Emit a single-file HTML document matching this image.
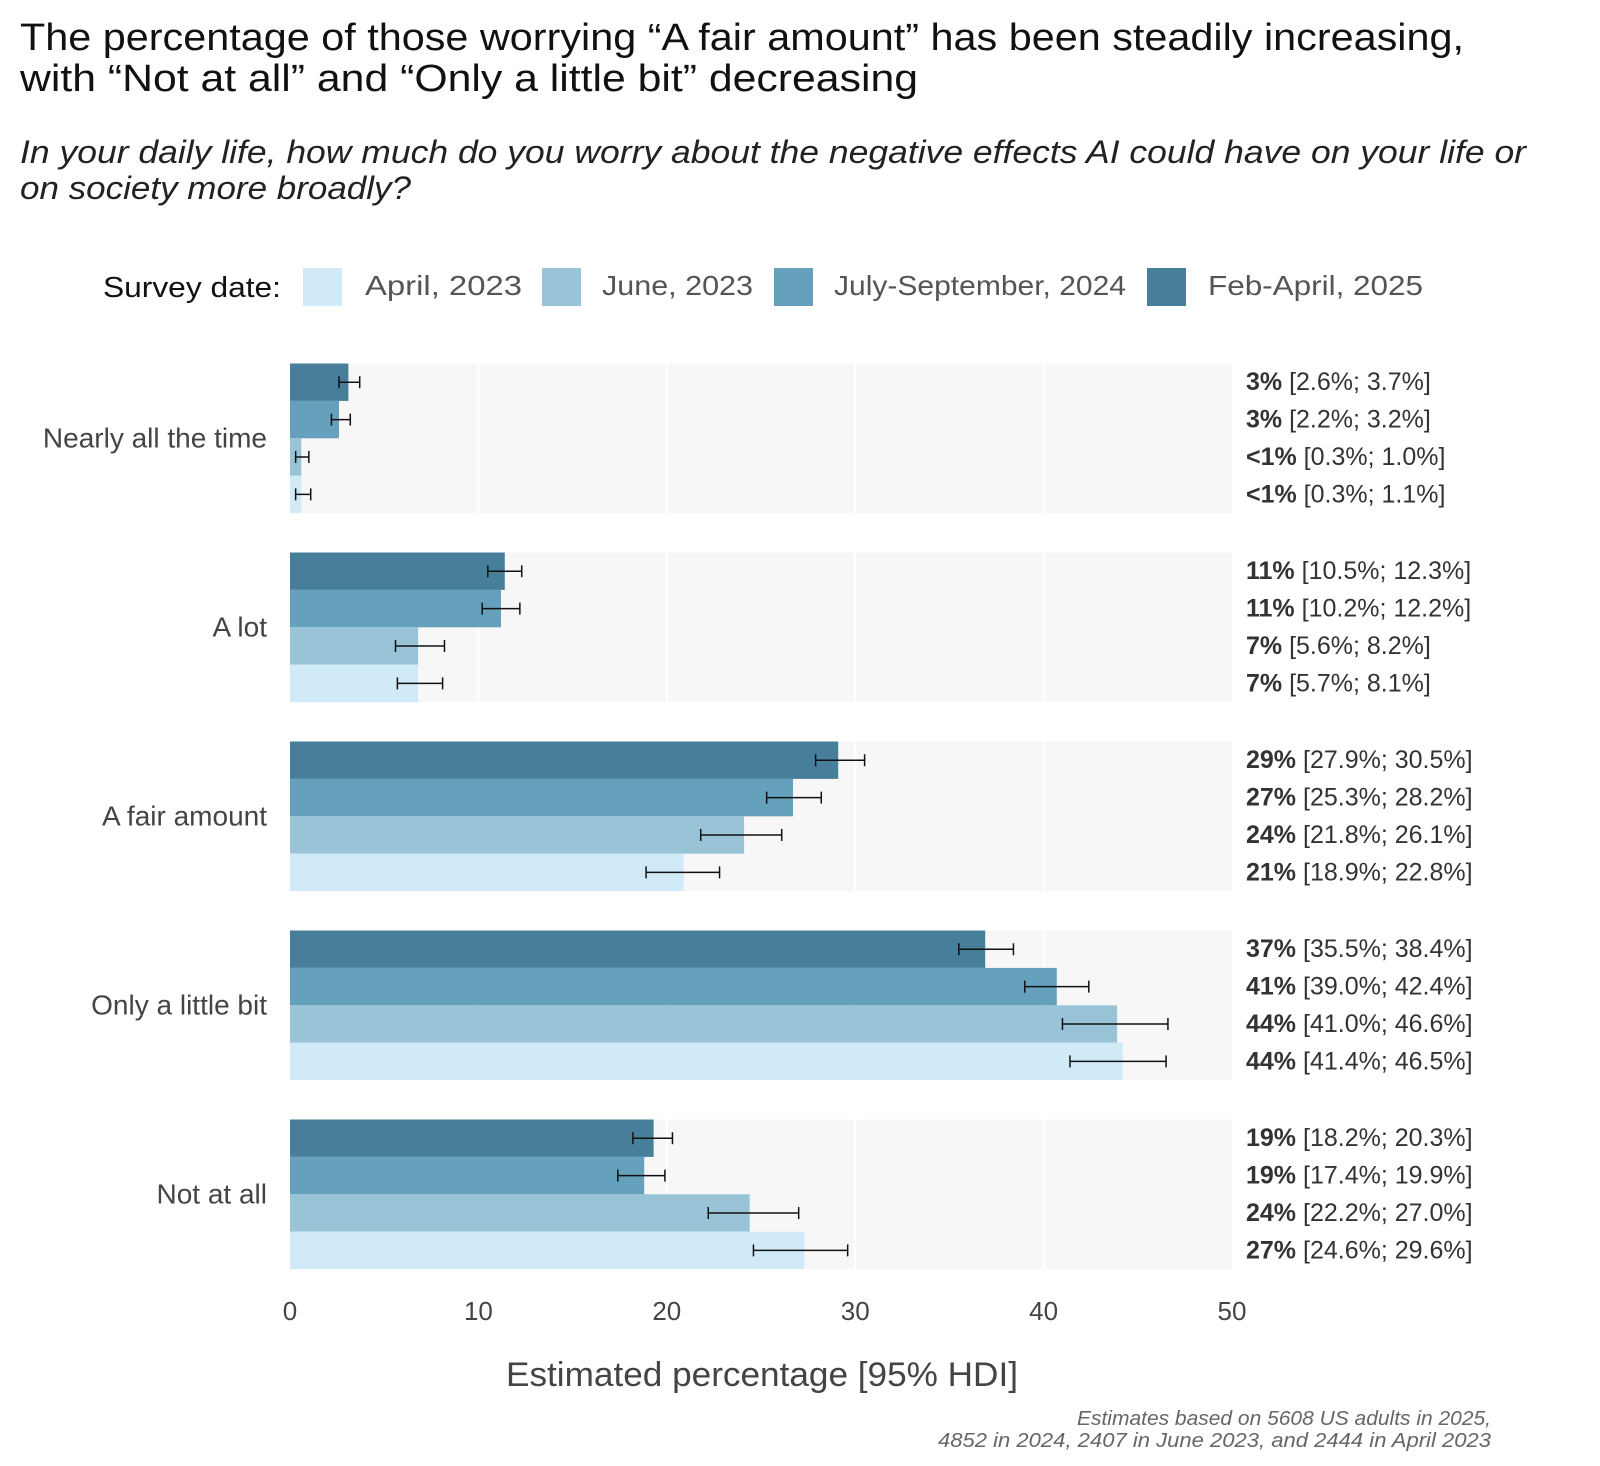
<!DOCTYPE html>
<html><head><meta charset="utf-8"><style>
body{margin:0;background:#fff}
svg{display:block;font-family:"Liberation Sans",sans-serif}
</style></head><body>
<svg id="chart" width="1600" height="1466" viewBox="0 0 1600 1466">
<text x="20" y="50" font-size="38" fill="#111" textLength="1444" lengthAdjust="spacingAndGlyphs">The percentage of those worrying “A fair amount” has been steadily increasing,</text>
<text x="20" y="91" font-size="38" fill="#111" textLength="898" lengthAdjust="spacingAndGlyphs">with “Not at all” and “Only a little bit” decreasing</text>
<text x="20" y="163" font-size="32" font-style="italic" fill="#222" textLength="1506" lengthAdjust="spacingAndGlyphs">In your daily life, how much do you worry about the negative effects AI could have on your life or</text>
<text x="20" y="199" font-size="32" font-style="italic" fill="#222" textLength="391" lengthAdjust="spacingAndGlyphs">on society more broadly?</text>
<g>
<text x="103" y="297" font-size="29" fill="#111" textLength="178" lengthAdjust="spacingAndGlyphs">Survey date:</text>
<rect x="303" y="268" width="39" height="38" fill="#d0eaf8"/>
<text x="365" y="295" font-size="28" fill="#555" textLength="157" lengthAdjust="spacingAndGlyphs">April, 2023</text>
<rect x="542" y="268" width="39" height="38" fill="#99c4d8"/>
<text x="602" y="295" font-size="28" fill="#555" textLength="151" lengthAdjust="spacingAndGlyphs">June, 2023</text>
<rect x="774" y="268" width="39" height="38" fill="#65a0bc"/>
<text x="834" y="295" font-size="28" fill="#555" textLength="292" lengthAdjust="spacingAndGlyphs">July-September, 2024</text>
<rect x="1147" y="268" width="39" height="38" fill="#477e99"/>
<text x="1208" y="295" font-size="28" fill="#555" textLength="215" lengthAdjust="spacingAndGlyphs">Feb-April, 2025</text>
</g>
<g id="plot"></g>
<text x="762" y="1386" font-size="34" fill="#444" text-anchor="middle" textLength="512" lengthAdjust="spacingAndGlyphs">Estimated percentage [95% HDI]</text>
<text x="1491" y="1425" font-size="20" font-style="italic" fill="#666" text-anchor="end" textLength="414" lengthAdjust="spacingAndGlyphs">Estimates based on 5608 US adults in 2025,</text>
<text x="1491" y="1447" font-size="20" font-style="italic" fill="#666" text-anchor="end" textLength="553" lengthAdjust="spacingAndGlyphs">4852 in 2024, 2407 in June 2023, and 2444 in April 2023</text>
</svg>
<script>
const categories = ["Nearly all the time","A lot","A fair amount","Only a little bit","Not at all"];
const seriesNames = ["Feb-April, 2025","July-September, 2024","June, 2023","April, 2023"];
const seriesColors = ["#477e99","#65a0bc","#99c4d8","#d0eaf8"];
const feb2025 = [3.1, 11.4, 29.1, 36.9, 19.3];
const feb2025Lo = [2.6, 10.5, 27.9, 35.5, 18.2];
const feb2025Hi = [3.7, 12.3, 30.5, 38.4, 20.3];
const jul2024 = [2.6, 11.2, 26.7, 40.7, 18.8];
const jul2024Lo = [2.2, 10.2, 25.3, 39.0, 17.4];
const jul2024Hi = [3.2, 12.2, 28.2, 42.4, 19.9];
const jun2023 = [0.6, 6.8, 24.1, 43.9, 24.4];
const jun2023Lo = [0.3, 5.6, 21.8, 41.0, 22.2];
const jun2023Hi = [1.0, 8.2, 26.1, 46.6, 27.0];
const apr2023 = [0.6, 6.8, 20.9, 44.2, 27.3];
const apr2023Lo = [0.3, 5.7, 18.9, 41.4, 24.6];
const apr2023Hi = [1.1, 8.1, 22.8, 46.5, 29.6];
const headLabels = [["3%","3%","<1%","<1%"],["11%","11%","7%","7%"],["29%","27%","24%","21%"],["37%","41%","44%","44%"],["19%","19%","24%","27%"]];
const xTicks = [0,10,20,30,40,50];

const NS="http://www.w3.org/2000/svg";
const g=document.getElementById('plot');
const X0=290, X1=1232, XMAX=50;
const x=v=>X0+(X1-X0)*v/XMAX;
const PANEL0=363.5, PANELSTEP=189, BARH=37.4;
const y=(c,s)=>PANEL0+c*PANELSTEP+s*BARH;
function mk(t,a){const e=document.createElementNS(NS,t);for(const k in a)e.setAttribute(k,a[k]);g.appendChild(e);return e;}
const vals=[feb2025,jul2024,jun2023,apr2023], los=[feb2025Lo,jul2024Lo,jun2023Lo,apr2023Lo], his=[feb2025Hi,jul2024Hi,jun2023Hi,apr2023Hi];
categories.forEach((cat,c)=>{
  const p=mk('rect',{x:X0,y:y(c,0),width:X1-X0,height:4*BARH,fill:'#f7f7f7'});
  
  
  xTicks.slice(1,-1).forEach(t=>{const l=mk('line',{x1:x(t),x2:x(t),y1:y(c,0),y2:y(c,4),stroke:'#fff','stroke-width':2});
    
    });
  const lab=mk('text',{x:267,y:y(c,2)+9,'font-size':28,fill:'#444','text-anchor':'end'});
  lab.textContent=cat;
  
  
  for(let s=0;s<4;s++){
    const v=vals[s][c], lo=los[s][c], hi=his[s][c], yy=y(c,s), cy=yy+BARH/2;
    const b=mk('rect',{x:X0,y:yy,width:x(v)-X0,height:BARH,fill:seriesColors[s]});
    
    
    const e=mk('path',{d:`M${x(lo)},${cy}H${x(hi)}M${x(lo)},${cy-6}V${cy+6}M${x(hi)},${cy-6}V${cy+6}`,stroke:'#111','stroke-width':1.5,fill:'none'});
    
    
    const t=mk('text',{x:1246,y:cy+8,'font-size':25,fill:'#333'});
    t.innerHTML=`<tspan font-weight="bold">${headLabels[c][s].replace('<','&lt;')}</tspan> [${lo.toFixed(1)}%; ${hi.toFixed(1)}%]`;
    
    
  }
});
xTicks.forEach(t=>{const e=mk('text',{x:x(t),y:1320,'font-size':26,fill:'#444','text-anchor':'middle'});e.textContent=t;
  
  });
</script>
</body></html>
